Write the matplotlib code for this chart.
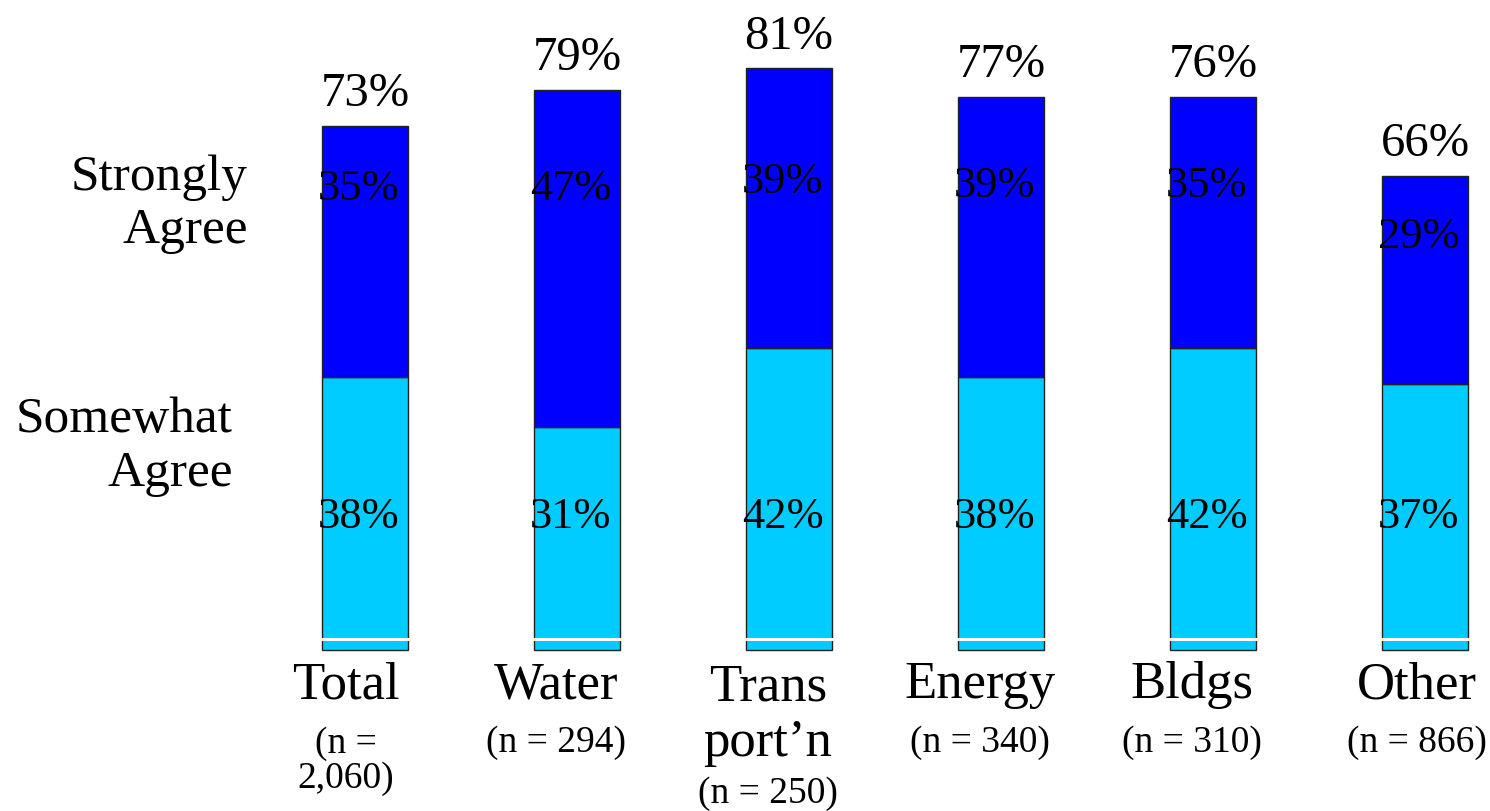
import matplotlib
matplotlib.use('Agg')
import matplotlib.pyplot as plt
import numpy as np

plt.rcParams['font.family'] = ['Liberation Serif', 'DejaVu Serif']

# Survey data
categories = ['Total', 'Water', 'Trans\nport\u2019n', 'Energy', 'Bldgs', 'Other']
sample_sizes = ['(n =\n2,060)', '(n = 294)', '(n = 250)', '(n = 340)', '(n = 310)', '(n = 866)']
somewhat_agree = [38, 31, 42, 38, 42, 37]
strongly_agree = [35, 47, 39, 39, 35, 29]
total_agree = [73, 79, 81, 77, 76, 66]

# where the percentages inside the dark segment sit
dark_label_y = [62.8, 62.8, 63.8, 63.2, 63.2, 56.1]
# category labels sit a little left of the bars
label_shift = [-0.09, -0.1, -0.1, -0.1, -0.1, -0.04]

x = np.arange(len(categories))
somewhat = np.array(somewhat_agree)
strongly = np.array(strongly_agree)

fig = plt.figure(figsize=(14.9, 8.12), dpi=100)
ax = fig.add_axes([0, 0, 1, 1])

ax.bar(x, somewhat, width=0.405, color='#00CCFF', edgecolor='#222222', linewidth=1)
ax.bar(x, strongly, width=0.405, bottom=somewhat, color='#0000FF', edgecolor='#222222', linewidth=1)

# white base line across the bars
ax.axhline(1.55, color='white', linewidth=2.2)

for i in range(len(categories)):
    top = somewhat[i] + strongly[i]
    ax.text(x[i], top + 2.9, f'{total_agree[i]}%', ha='center', va='baseline', fontsize=35)
    ax.text(x[i] - 0.03, dark_label_y[i], f'{strongly_agree[i]}%', ha='center', va='baseline', fontsize=32)
    ax.text(x[i] - 0.03, 17.2, f'{somewhat_agree[i]}%', ha='center', va='baseline', fontsize=32)

    lx = x[i] + label_shift[i]
    two_line = '\n' in categories[i]
    # va='baseline' aligns the last line of a multi-line text
    ax.text(lx, -14.6 if two_line else -6.6, categories[i], ha='center', va='baseline',
            fontsize=38, linespacing=1.2)
    if two_line:
        n_y = -21.2
    elif '\n' in sample_sizes[i]:
        n_y = -19.1
    else:
        n_y = -14.07
    ax.text(lx, n_y, sample_sizes[i], ha='center', va='baseline', fontsize=27, linespacing=1.04)

ax.text(-0.552, 56.8, 'Strongly\nAgree', ha='right', va='baseline', fontsize=37, linespacing=1.2)
ax.text(-0.623, 23.0, 'Somewhat\nAgree', ha='right', va='baseline', fontsize=37, linespacing=1.2)

ax.set_xlim(-365 / 212, (1490 - 365) / 212)
ax.set_ylim(-161 / 7.18, 651 / 7.18)
ax.axis('off')

fig.savefig('out.png', dpi=100, facecolor='white')
